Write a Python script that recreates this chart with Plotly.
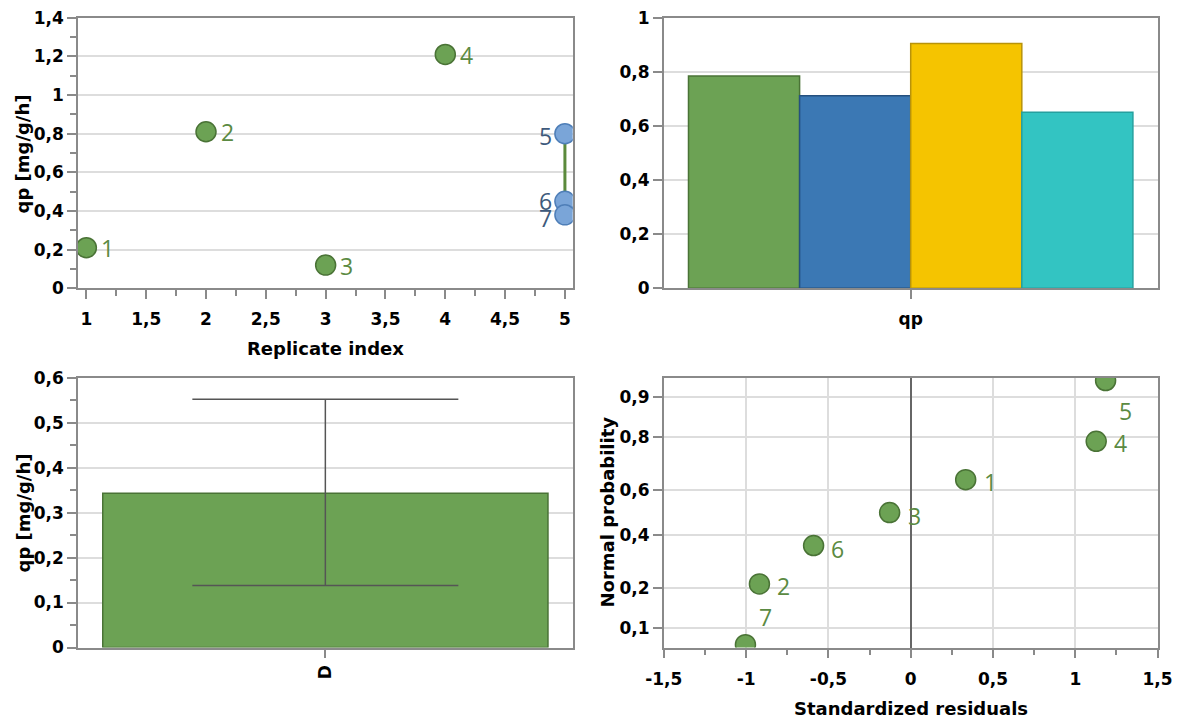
import plotly.graph_objects as go
from statistics import NormalDist

# ---------------- data ----------------
point_ids = ["1", "2", "3", "4", "5", "6", "7"]
replicate_index = [1, 2, 3, 4, 5, 5, 5]
qp_values = [0.21, 0.81, 0.12, 1.21, 0.80, 0.45, 0.38]
point_group = ["g", "g", "g", "g", "b", "b", "b"]

bar_series = ["S1", "S2", "S3", "S4"]
bar_category = ["qp"]
bar_values = [0.785, 0.712, 0.905, 0.651]

mean_category = ["D"]
mean_value = [0.343]
err_plus = [0.209]
err_minus = [0.205]

std_resid = [0.334, -0.919, -0.128, 1.127, 1.184, -0.590, -1.004]
normal_prob = [0.643, 0.214, 0.500, 0.786, 0.929, 0.357, 0.071]

prob_ticks = [0.1, 0.2, 0.4, 0.6, 0.8, 0.9]
prob_ticktext = ["0,1", "0,2", "0,4", "0,6", "0,8", "0,9"]
resid_ticks = [-1.5, -1, -0.5, 0, 0.5, 1, 1.5]
resid_ticktext = ["-1,5", "-1", "-0,5", "0", "0,5", "1", "1,5"]

# ---------------- styles ----------------
GREEN = "#6ca254"
GREEN_EDGE = "#4a7336"
GREEN_TXT = "#5b8a42"
BLUE = "#7aa5d8"
BLUE_EDGE = "#4f7fb8"
BLUE_TXT = "#3e5a7c"
bar_fill = ["#6ca254", "#3b78b4", "#f5c400", "#33c4c2"]
bar_edge = ["#4a7336", "#25507f", "#b8930a", "#25a09f"]

FONT = "DejaVu Sans"
tickfont = dict(family=FONT, size=17, color="black", weight="bold")
titlefont = dict(family=FONT, size=18, color="black", weight="bold")
LABEL_FONT = "Open Sans"
labelfont_size = 23
GRID = "#dddddd"
LINE = "#8a8a8a"

nd = NormalDist()
z_of = lambda p: nd.inv_cdf(p)

fig = go.Figure()

# ---- panel 1 : replicate scatter ----
grp5 = [v for v, g in zip(qp_values, point_group) if g == "b"]
grp5_x = [x for x, g in zip(replicate_index, point_group) if g == "b"]
fig.add_trace(go.Scatter(x=[grp5_x[0], grp5_x[0]], y=[max(grp5), min(grp5)],
                         mode="lines", line=dict(color="#5b8a3c", width=3),
                         xaxis="x", yaxis="y", hoverinfo="skip"))
for grp, fill, edge in [("g", GREEN, GREEN_EDGE), ("b", BLUE, BLUE_EDGE)]:
    xs = [x for x, g in zip(replicate_index, point_group) if g == grp]
    ys = [y for y, g in zip(qp_values, point_group) if g == grp]
    fig.add_trace(go.Scatter(x=xs, y=ys, mode="markers",
                             marker=dict(size=20, color=fill, line=dict(color=edge, width=1.5)),
                             xaxis="x", yaxis="y", cliponaxis=True))

label_shift_tl = {"1": (21, 0), "2": (21, 0), "3": (21, -1), "4": (21, -1),
                  "5": (-19, -2), "6": (-19, 0), "7": (-19, -3)}
for pid, x, y, g in zip(point_ids, replicate_index, qp_values, point_group):
    dx, dy = label_shift_tl[pid]
    fig.add_annotation(x=x, y=y, xref="x", yref="y", text=pid, showarrow=False,
                       xshift=dx, yshift=dy,
                       font=dict(family=LABEL_FONT, size=labelfont_size,
                                 color=GREEN_TXT if g == "g" else BLUE_TXT))

# ---- panel 2 : grouped bars ----
for name, v, f, e in zip(bar_series, bar_values, bar_fill, bar_edge):
    fig.add_trace(go.Bar(x=bar_category, y=[v], name=name, marker=dict(color=f, line=dict(color=e, width=1.5)),
                         xaxis="x2", yaxis="y2"))

# ---- panel 3 : mean bar with error ----
fig.add_trace(go.Bar(x=mean_category, y=mean_value,
                     marker=dict(color=GREEN, line=dict(color=GREEN_EDGE, width=1.5)),
                     error_y=dict(type="data", symmetric=False, array=err_plus, arrayminus=err_minus,
                                  color="#555555", thickness=1.5, width=133),
                     xaxis="x3", yaxis="y3"))

# ---- panel 4 : normal probability plot ----
fig.add_trace(go.Scatter(x=std_resid, y=[z_of(p) for p in normal_prob], mode="markers",
                         marker=dict(size=20, color=GREEN, line=dict(color=GREEN_EDGE, width=1.5)),
                         xaxis="x4", yaxis="y4", cliponaxis=True))
label_shift_br = {"1": (25, -2), "2": (24, -2), "3": (25, -3), "4": (24, -2),
                  "5": (20, -30), "6": (24, -3), "7": (20, 28)}
for pid, x, p in zip(point_ids, std_resid, normal_prob):
    dx, dy = label_shift_br[pid]
    fig.add_annotation(x=x, y=z_of(p), xref="x4", yref="y4", text=pid, showarrow=False,
                       xshift=dx, yshift=dy,
                       font=dict(family=LABEL_FONT, size=labelfont_size, color=GREEN_TXT))

# ---------------- axes ----------------
common = dict(showline=True, linecolor=LINE, linewidth=1.5, mirror=True,
              ticks="outside", ticklen=9, tickcolor=LINE, tickwidth=1.5,
              tickfont=tickfont, gridcolor=GRID, gridwidth=1.5, zeroline=False,
              automargin=False)
minor_tick = lambda d: dict(dtick=d, ticks="outside", ticklen=6, tickcolor=LINE, tickwidth=1.5, showgrid=False)

dx_left = [78.0 / 1180, 572.7 / 1180]
dx_right = [663.8 / 1180, 1157.6 / 1180]
dy_top = [1 - 288.3 / 719, 1 - 17.7 / 719]
dy_bot = [1 - 647.5 / 719, 1 - 377.7 / 719]

fig.update_layout(
    xaxis=dict(common, domain=dx_left, anchor="y", range=[0.93, 5.065], dtick=0.5, tick0=1,
               showgrid=False, minor=minor_tick(0.25), ticklabelstandoff=6),
    yaxis=dict(common, domain=dy_top, anchor="x", range=[0, 1.4], dtick=0.2,
               showgrid=True, minor=minor_tick(0.1)),
    xaxis2=dict(common, domain=dx_right, anchor="y2", showgrid=False, ticklabelstandoff=6),
    yaxis2=dict(common, domain=dy_top, anchor="x2", range=[0, 1], dtick=0.2, showgrid=True),
    xaxis3=dict(common, domain=dx_left, anchor="y3", showgrid=False, tickangle=-90),
    yaxis3=dict(common, domain=dy_bot, anchor="x3", range=[0, 0.6], dtick=0.1,
                showgrid=True, minor=minor_tick(0.05)),
    xaxis4=dict(common, domain=dx_right, anchor="y4", range=[-1.5, 1.5],
                tickvals=resid_ticks, ticktext=resid_ticktext,
                showgrid=True, minor=minor_tick(0.25), ticklabelstandoff=6,
                zeroline=True, zerolinecolor="#666666", zerolinewidth=1.5),
    yaxis4=dict(common, domain=dy_bot, anchor="x4", range=[-1.5, 1.5],
                tickvals=[z_of(p) for p in prob_ticks], ticktext=prob_ticktext, showgrid=True),
    barmode="group", bargap=0.1, bargroupgap=0,
    showlegend=False,
    separators=", ",
    width=1180, height=719,
    margin=dict(l=0, r=0, t=0, b=0, autoexpand=False),
    paper_bgcolor="white", plot_bgcolor="white",
)

titles = [
    ("qp [mg/g/h]", 22.5 / 1180, 1 - 154 / 719, -90),
    ("Replicate index", 325.5 / 1180, 1 - 348 / 719, 0),
    ("qp [mg/g/h]", 22.5 / 1180, 1 - 513 / 719, -90),
    ("Normal probability", 607 / 1180, 1 - 512.5 / 719, -90),
    ("Standardized residuals", 910.7 / 1180, 1 - 708 / 719, 0),
]
for t, x, y, ang in titles:
    fig.add_annotation(x=x, y=y, xref="paper", yref="paper", text=t, showarrow=False,
                       textangle=ang, font=titlefont, xanchor="center", yanchor="middle")

fig.write_html("out.html")
